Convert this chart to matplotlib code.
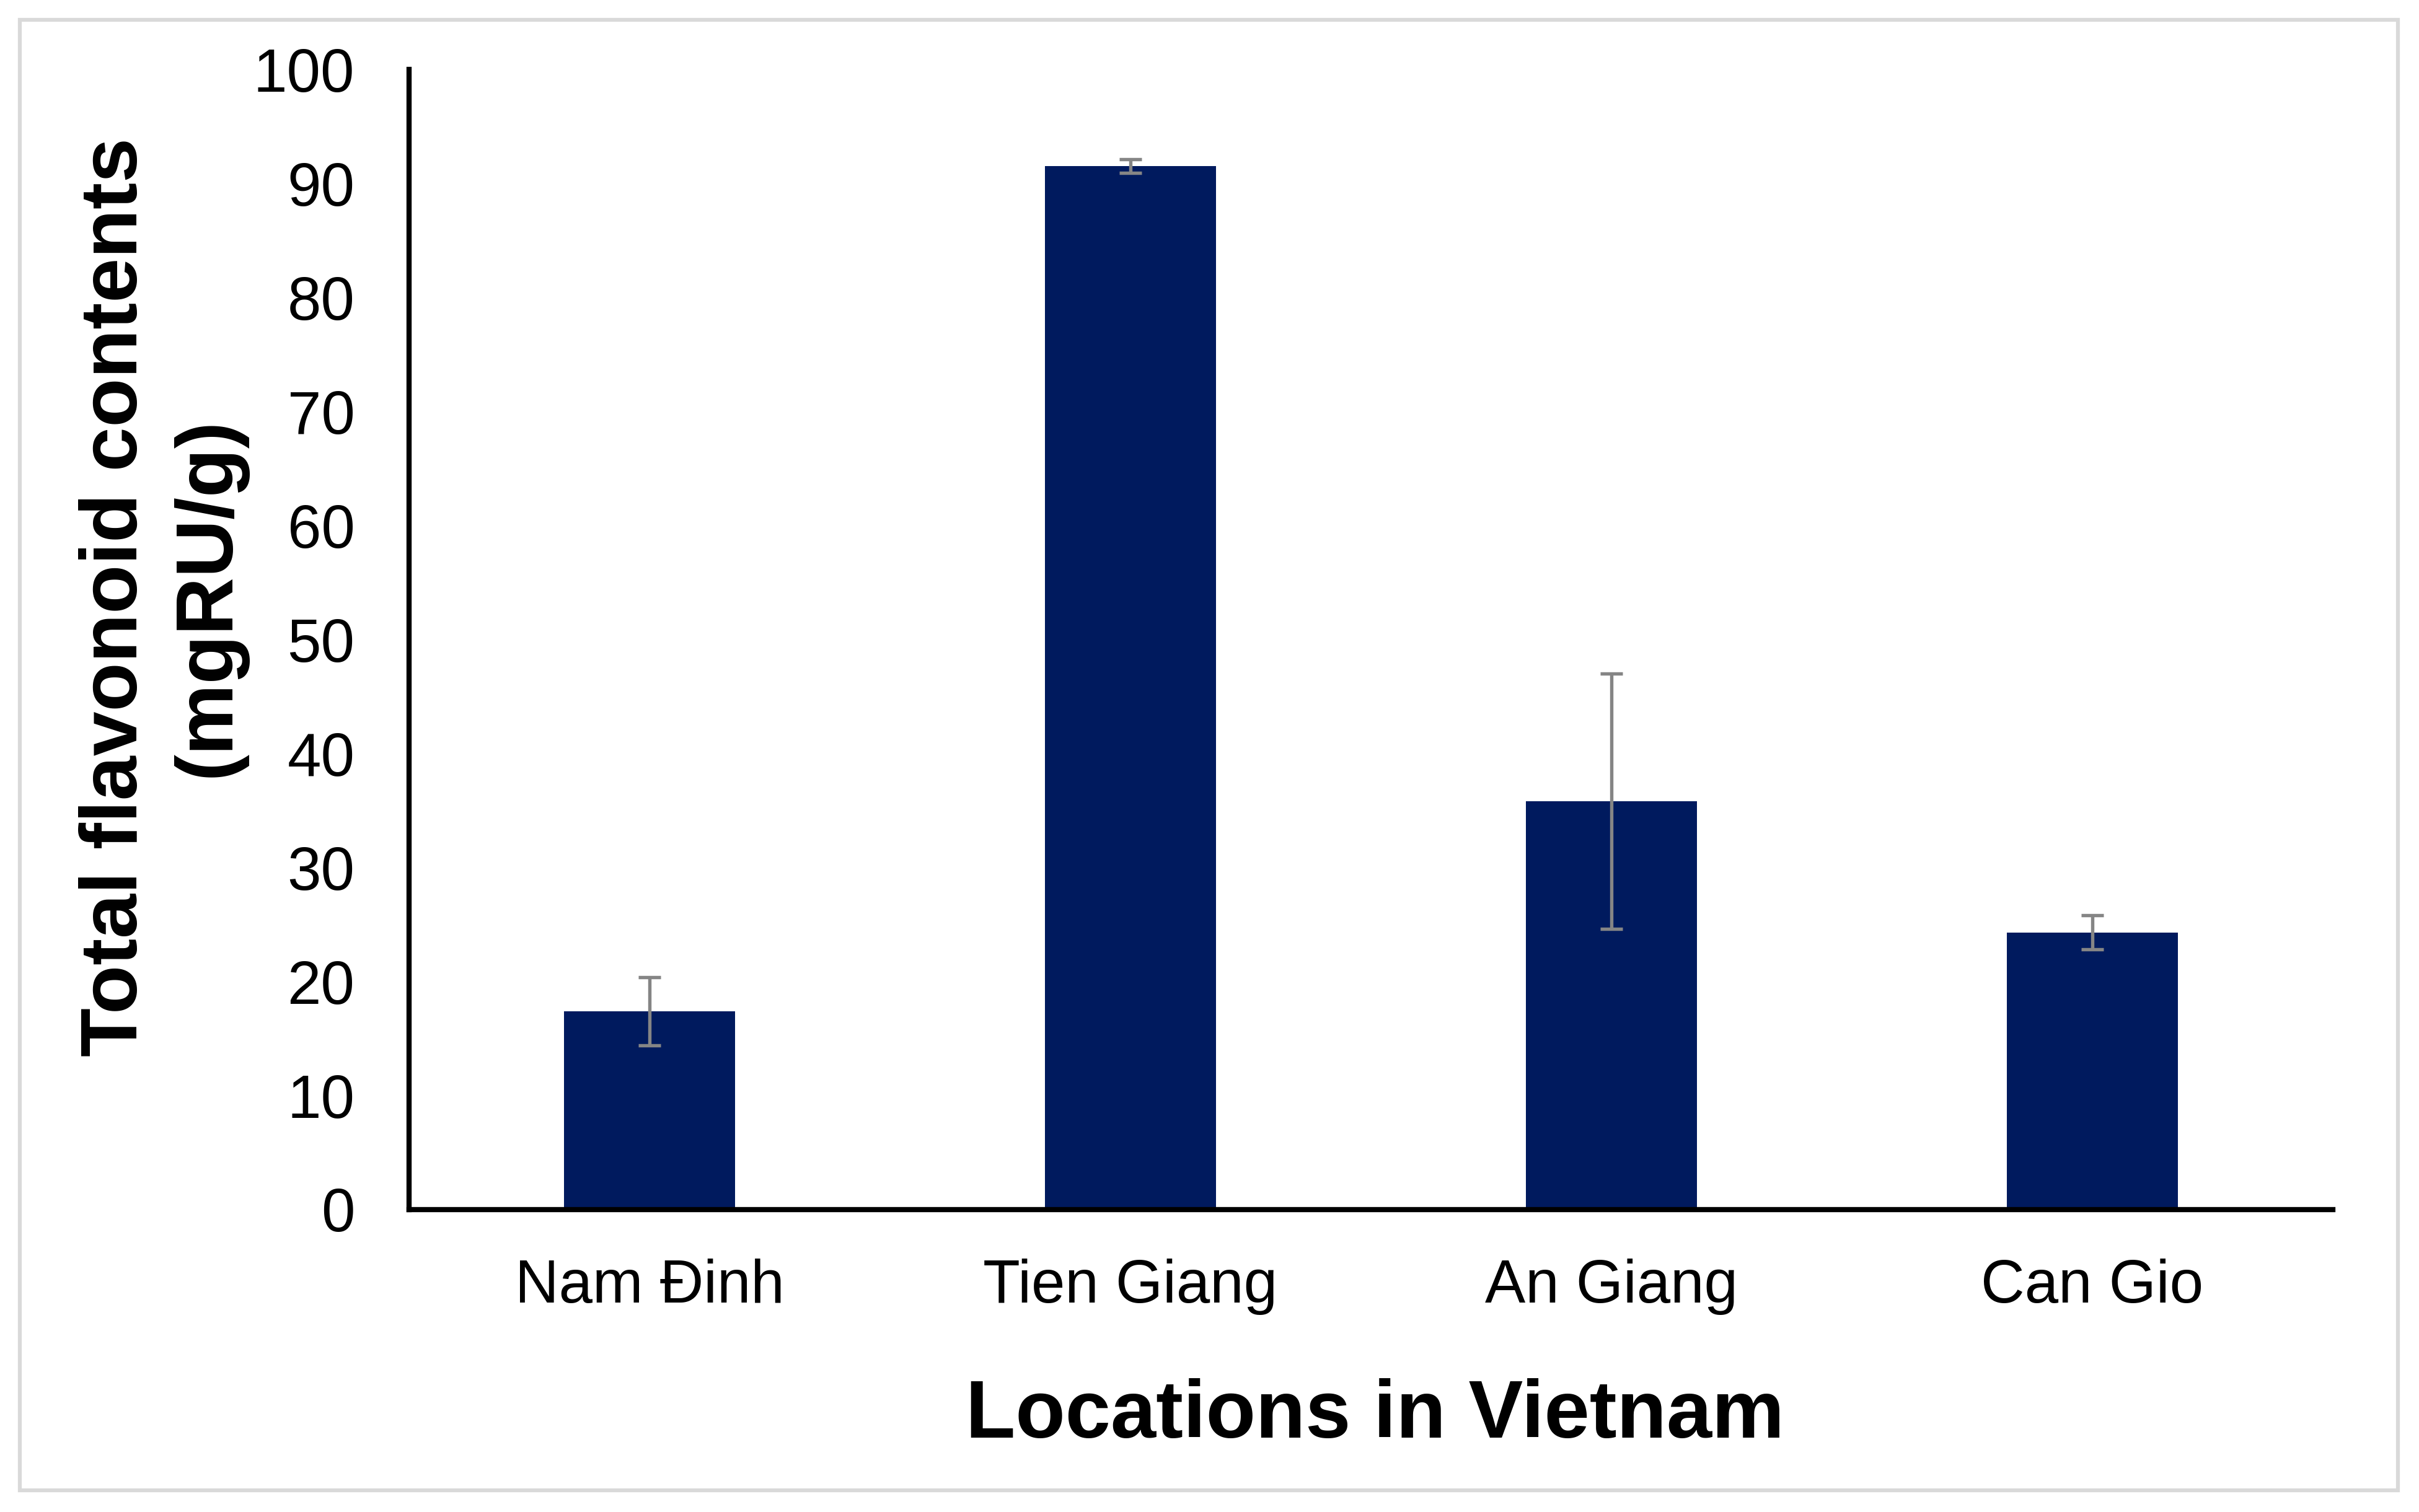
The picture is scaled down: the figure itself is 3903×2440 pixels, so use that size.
import matplotlib
matplotlib.use("Agg")
import matplotlib.pyplot as plt
from matplotlib.patches import Rectangle

# Data
locations = ["Nam Đinh", "Tien Giang", "An Giang", "Can Gio"]
flavonoid = [17.4, 91.5, 35.8, 24.3]
errors = [3.0, 0.6, 11.2, 1.5]
yticks = [0, 10, 20, 30, 40, 50, 60, 70, 80, 90, 100]

plt.rcParams['font.family'] = ['Liberation Sans', 'DejaVu Sans']

W, H = 3903, 2440
dpi = 300
fig = plt.figure(figsize=(W / dpi, H / dpi), dpi=dpi)
fig.patch.set_facecolor('white')

ax = fig.add_axes([660 / W, 1 - 1952 / H, (3764 - 660) / W, (1952 - 112) / H])

x = list(range(len(locations)))
ax.bar(x, flavonoid, width=0.355, color='#001a5e', edgecolor='none', zorder=2)
ax.errorbar(x, flavonoid, yerr=errors, fmt='none', ecolor='#858585',
            elinewidth=1.3, capsize=4.4, capthick=1.3, zorder=3)

ax.set_xlim(-0.5, 3.5)
ax.set_ylim(0, 100)
ax.set_yticks(yticks)
ax.set_yticklabels([str(v) for v in yticks])
ax.set_xticks(x)
ax.set_xticklabels(locations)

for s in ['top', 'right']:
    ax.spines[s].set_visible(False)
for s in ['left', 'bottom']:
    ax.spines[s].set_linewidth(2.0)
    ax.spines[s].set_color('black')

ax.tick_params(axis='y', length=0, pad=21, labelsize=23.5, labelcolor='black')
ax.tick_params(axis='x', length=0, pad=19, labelsize=23.5, labelcolor='black')

fig.text(2218 / W, 1 - 2320 / H, "Locations in Vietnam", ha='center', va='baseline',
         fontsize=31.6, fontweight='bold')
fig.text(262 / W, 1 - 964 / H, "Total flavonoid contents\n(mgRU/g)", ha='center', va='center',
         rotation=90, fontsize=31, fontweight='bold', multialignment='center', linespacing=1.3)

# outer frame
fig.patches.append(Rectangle((32 / W, 1 - 2405 / H), (3869 - 32) / W, (2405 - 32) / H,
                             transform=fig.transFigure, fill=False,
                             edgecolor='#d9d9d9', linewidth=1.5))

fig.savefig("out.png", dpi=dpi, facecolor='white')
